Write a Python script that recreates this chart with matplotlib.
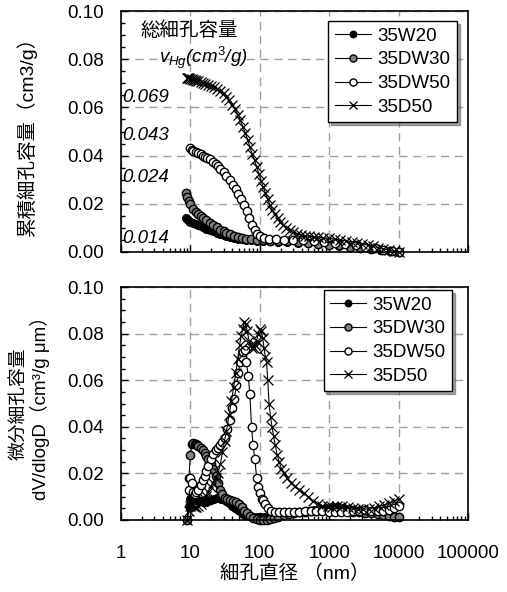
import matplotlib
matplotlib.use("Agg")
import matplotlib.pyplot as plt
from matplotlib.ticker import MultipleLocator, LogLocator, FixedLocator, FixedFormatter, NullFormatter

plt.rcParams['font.family'] = ['Liberation Sans', 'Noto Sans CJK JP']
plt.rcParams['mathtext.fontset'] = 'custom'
plt.rcParams['mathtext.rm'] = 'Liberation Sans'
plt.rcParams['mathtext.it'] = 'Liberation Sans:italic'

labels = ['35W20', '35DW30', '35DW50', '35D50']

# cumulative pore volume (cm3/g) vs pore diameter (nm)
d_cum_a = [8.6, 9.0, 9.5, 10, 11, 12, 13, 14, 15, 17, 19, 21, 24, 27, 30, 33, 37, 42, 48, 55,
           64, 75, 90, 110, 140, 180, 250, 350, 500, 700, 1000, 1400, 2000, 2800, 4000, 5500, 7500, 10000]
v_w20_cum = [0.0140, 0.0135, 0.0130, 0.0125, 0.0120, 0.0115, 0.0110, 0.0107, 0.0104, 0.0097,
             0.0091, 0.0086, 0.0080, 0.0074, 0.0069, 0.0065, 0.0061, 0.0058, 0.0055, 0.0053,
             0.0050, 0.0048, 0.0046, 0.0045, 0.0044, 0.0043, 0.0041, 0.0039, 0.0036, 0.0032,
             0.0029, 0.0025, 0.0021, 0.0017, 0.0012, 0.0008, 0.0004, 0.0001]
v_dw30_cum = [0.0244, 0.0228, 0.0212, 0.0198, 0.0180, 0.0168, 0.0158, 0.0150, 0.0143, 0.0131,
              0.0120, 0.0112, 0.0102, 0.0093, 0.0086, 0.0080, 0.0074, 0.0068, 0.0063, 0.0059,
              0.0055, 0.0052, 0.0050, 0.0048, 0.0047, 0.0046, 0.0044, 0.0042, 0.0039, 0.0035,
              0.0031, 0.0027, 0.0022, 0.0018, 0.0013, 0.0009, 0.0005, 0.0001]
d_dw50_cum = [9.9, 10.5, 11, 12, 13, 14, 15, 16, 17.5, 19, 21, 23, 25, 27, 30, 33, 37, 41, 45, 49,
              54, 59, 65, 71, 77, 84, 92, 100, 115, 135, 170, 220, 300, 420, 600, 850, 1200, 1700,
              2400, 3300, 4500, 6000, 8000, 10000]
v_dw50_cum = [0.0430, 0.0424, 0.0420, 0.0415, 0.0410, 0.0405, 0.0400, 0.0395, 0.0390, 0.0385,
              0.0375, 0.0365, 0.0355, 0.0345, 0.0330, 0.0315, 0.0298, 0.0280, 0.0262, 0.0242,
              0.0220, 0.0196, 0.0170, 0.0140, 0.0112, 0.0090, 0.0075, 0.0066, 0.0058, 0.0054,
              0.0052, 0.0051, 0.0050, 0.0048, 0.0045, 0.0042, 0.0038, 0.0033, 0.0027, 0.0021,
              0.0015, 0.0010, 0.0005, 0.0001]
d_d50_cum = [8.8, 9.2, 9.6, 10, 10.5, 11, 11.5, 12, 13, 14, 15, 16.5, 18, 20, 22, 24, 27, 30, 33, 36,
             40, 44, 48, 52, 57, 62, 67, 72, 78, 84, 90, 97, 105, 112, 120, 130, 140, 152, 165, 180,
             195, 215, 240, 270, 300, 340, 390, 450, 520, 600, 700, 820, 1000, 1200, 1450, 1750,
             2100, 2500, 3000, 3600, 4300, 5100, 6000, 7200, 8500, 10000]
v_d50_cum = [0.0722, 0.0721, 0.0720, 0.0719, 0.0717, 0.0715, 0.0713, 0.0711, 0.0708, 0.0705,
             0.0702, 0.0698, 0.0694, 0.0689, 0.0684, 0.0678, 0.0670, 0.0658, 0.0645, 0.0630,
             0.0610, 0.0592, 0.0570, 0.0548, 0.0520, 0.0492, 0.0465, 0.0437, 0.0405, 0.0380,
             0.0354, 0.0325, 0.0295, 0.0270, 0.0245, 0.0220, 0.0195, 0.0175, 0.0158, 0.0140,
             0.0125, 0.0112, 0.0100, 0.0090, 0.0082, 0.0076, 0.0071, 0.0068, 0.0065, 0.0063,
             0.0061, 0.0059, 0.0057, 0.0054, 0.0050, 0.0046, 0.0042, 0.0037, 0.0033, 0.0028,
             0.0023, 0.0018, 0.0013, 0.0008, 0.0004, 0.0001]
total_vol = ['0.069', '0.043', '0.024', '0.014']

# differential pore volume dV/dlogD
d_w20_dif = [9.0, 9.5, 10, 10.5, 11, 11.5, 12, 13, 14, 15, 16, 17, 18, 20, 22, 24, 26, 28, 30, 33,
             36, 40, 44, 48, 53, 58, 64, 70, 80, 90, 100, 115, 130, 150, 180, 220, 270, 330, 400,
             500, 600, 750, 900, 1100, 1300, 1600, 1900, 2300, 2800, 3400, 4100, 5000, 6000, 7200,
             8600, 10000]
v_w20_dif = [0.0, 0.006, 0.009, 0.0095, 0.0093, 0.009, 0.0088, 0.0084, 0.008, 0.0078,
             0.0076, 0.0078, 0.008, 0.0085, 0.009, 0.0093, 0.0094, 0.0092, 0.0088, 0.008,
             0.0072, 0.0062, 0.0052, 0.0042, 0.0034, 0.0027, 0.0022, 0.0018, 0.0015, 0.0013,
             0.0012, 0.0013, 0.0015, 0.0018, 0.0022, 0.0026, 0.0030, 0.0033, 0.0036, 0.0040,
             0.0044, 0.0047, 0.0050, 0.0054, 0.0056, 0.0052, 0.0048, 0.0045, 0.0042, 0.0040,
             0.0036, 0.0032, 0.0027, 0.0022, 0.0018, 0.0014]
d_dw30_dif = [9.0, 9.5, 10, 10.5, 11, 11.5, 12, 12.5, 13, 14, 15, 16, 17, 18, 19.5, 21, 23, 25, 27,
              29, 31, 34, 37, 41, 45, 50, 55, 60, 66, 72, 80, 90, 100, 110, 125, 140, 160, 185, 220,
              260, 310, 370, 450, 550, 650, 800, 1000, 1200, 1500, 1800, 2200, 2700, 3300, 4000,
              5000, 6000, 7200, 8600, 10000]
v_dw30_dif = [0.0, 0.018, 0.028, 0.0325, 0.0330, 0.0328, 0.0325, 0.0322, 0.0318, 0.0310,
              0.0300, 0.0288, 0.0275, 0.0260, 0.0240, 0.0220, 0.0190, 0.0160, 0.0130, 0.0110,
              0.0095, 0.0088, 0.0087, 0.0083, 0.0078, 0.0068, 0.0055, 0.0040, 0.0028, 0.0018,
              0.0010, 0.0005, 0.0002, 0.0001, 0.0002, 0.0005, 0.0010, 0.0015, 0.0020, 0.0025,
              0.0030, 0.0033, 0.0036, 0.0038, 0.0040, 0.0042, 0.0043, 0.0042, 0.0040, 0.0038,
              0.0036, 0.0033, 0.0030, 0.0028, 0.0025, 0.0022, 0.0018, 0.0015, 0.0012]
d_dw50_dif = [9.5, 10, 10.5, 11, 11.5, 12, 13, 14, 15, 16, 17, 18, 19.5, 21, 23, 25, 27, 29, 31,
              34, 37, 40, 43, 46, 49, 52, 55, 58, 61, 64, 68, 72, 76, 80, 85, 90, 95, 100, 106, 112,
              120, 130, 145, 165, 190, 220, 260, 310, 370, 450, 550, 650, 800, 1000, 1200, 1500,
              1800, 2200, 2700, 3300, 4000, 5000, 6000, 7200, 8600, 10000]
v_dw50_dif = [0.013, 0.018, 0.016, 0.012, 0.011, 0.012, 0.013, 0.015, 0.017,
              0.019, 0.021, 0.023, 0.026, 0.0285, 0.030, 0.031, 0.032, 0.0335, 0.035,
              0.039, 0.043, 0.048, 0.052, 0.058, 0.063, 0.068, 0.070, 0.072, 0.073,
              0.068, 0.062, 0.054, 0.040, 0.032, 0.026, 0.018, 0.014, 0.0114, 0.0090,
              0.0085, 0.0070, 0.0050, 0.0040, 0.0035, 0.0033, 0.0033, 0.0034, 0.0035, 0.0036,
              0.0037, 0.0038, 0.0038, 0.0037, 0.0036, 0.0035, 0.0035, 0.0036, 0.0038, 0.0040,
              0.0042, 0.0040, 0.0038, 0.0040, 0.0045, 0.0050, 0.0058]
d_d50_dif = [9.0, 9.5, 10, 10.5, 11, 11.5, 12, 13, 14, 15, 16, 17, 18, 19.5, 21, 23, 25, 27, 29, 31,
             33, 36, 39, 42, 45, 48, 51, 54, 57, 60, 63, 66, 70, 74, 78, 82, 86, 90, 95, 100,
             105, 110, 115, 120, 125, 130, 136, 143, 150, 158, 167, 178, 190, 205, 225, 250, 280,
             320, 370, 430, 500, 580, 680, 800, 950, 1100, 1300, 1550, 1850, 2200, 2600, 3100,
             3700, 4400, 5200, 6200, 7300, 8600, 10000]
v_d50_dif = [0.0, 0.004, 0.006, 0.0065, 0.006, 0.0055, 0.0055, 0.006, 0.007, 0.008,
             0.009, 0.0105, 0.012, 0.014, 0.016, 0.018, 0.020, 0.024, 0.029, 0.034,
             0.038, 0.045, 0.051, 0.057, 0.063, 0.069, 0.075, 0.079, 0.082, 0.085,
             0.084, 0.081, 0.077, 0.075, 0.074, 0.074, 0.075, 0.077, 0.080, 0.082,
             0.081, 0.078, 0.074, 0.070, 0.068, 0.060, 0.050, 0.044, 0.040, 0.036,
             0.032, 0.028, 0.025, 0.022, 0.020, 0.018, 0.016, 0.0145, 0.013, 0.0115,
             0.010, 0.0082, 0.0070, 0.0062, 0.0058, 0.0056, 0.0058, 0.0060, 0.0056, 0.0052,
             0.0048, 0.0046, 0.0048, 0.0052, 0.0058, 0.0064, 0.0072, 0.0080, 0.0090]

x_ticks = [1, 10, 100, 1000, 10000, 100000]

styles = [dict(marker='o', mfc='black', mec='black', ms=5.5),
          dict(marker='o', mfc='#808080', mec='black', ms=6),
          dict(marker='o', mfc='white', mec='black', ms=6),
          dict(marker='x', mfc='none', mec='black', ms=6.5, mew=0.9)]

fig = plt.figure(figsize=(5.07, 5.92), dpi=100)
ax1 = fig.add_axes([121/507, 1 - 252/592, 347/507, 241/592])
ax2 = fig.add_axes([121/507, 1 - 520/592, 347/507, 233/592])


def setup(ax):
    ax.set_xscale('log')
    ax.set_xlim(1, 100000)
    ax.set_ylim(0, 0.10)
    ax.xaxis.set_major_locator(FixedLocator(x_ticks))
    ax.xaxis.set_minor_locator(LogLocator(base=10, subs=range(2, 10), numticks=20))
    ax.xaxis.set_minor_formatter(NullFormatter())
    ax.yaxis.set_major_locator(MultipleLocator(0.02))
    ax.yaxis.set_minor_locator(MultipleLocator(0.005))
    ax.yaxis.set_major_formatter(plt.FormatStrFormatter('%.2f'))
    ax.tick_params(which='both', direction='in', top=False, right=False, labelsize=13.5)
    ax.tick_params(which='major', length=5, width=1)
    ax.tick_params(which='minor', length=3, width=1)
    ax.tick_params(axis='y', pad=12)
    ax.grid(True, which='major', color='#a0a0a0', lw=1, ls=(0, (6, 4)))
    for s in ax.spines.values():
        s.set_linewidth(1.2)


setup(ax1)
setup(ax2)

cum = [(d_cum_a, v_w20_cum), (d_cum_a, v_dw30_cum), (d_dw50_cum, v_dw50_cum), (d_d50_cum, v_d50_cum)]
dif = [(d_w20_dif, v_w20_dif), (d_dw30_dif, v_dw30_dif), (d_dw50_dif, v_dw50_dif), (d_d50_dif, v_d50_dif)]

for (d, v), st, lab in zip(cum, styles, labels):
    ax1.plot(d, v, color='black', lw=0.8, label=lab, clip_on=False, **st)
for (d, v), st, lab in zip(dif, styles, labels):
    ax2.plot(d, v, color='black', lw=0.8, label=lab, clip_on=False, **st)

ax1.xaxis.set_major_formatter(NullFormatter())
ax2.xaxis.set_major_formatter(FixedFormatter([str(t) for t in x_ticks]))
ax2.tick_params(axis='x', pad=18)

for ax, anchor in [(ax1, (0.968, 0.958)), (ax2, (0.954, 0.987))]:
    leg = ax.legend(loc='upper right', bbox_to_anchor=anchor, fontsize=13.5, shadow=True,
                    fancybox=False, framealpha=1, edgecolor='black', handlelength=1.9,
                    handletextpad=0.35, labelspacing=0.35, borderpad=0.35, borderaxespad=0,
                    markerscale=0.85)
    leg.get_frame().set_linewidth(1.0)

ax1.text(0.055, 0.92, '総細孔容量', transform=ax1.transAxes, fontsize=14, style='italic',
         va='center', ha='left')
ax1.text(0.11, 0.805, r'$v_{Hg}$(cm$^{3}$/g)', transform=ax1.transAxes, fontsize=13.5,
         style='italic', va='center', ha='left')
for txt, yy in zip(total_vol, [0.643, 0.485, 0.311, 0.058]):
    ax1.text(0.004, yy, txt, transform=ax1.transAxes, fontsize=13.5, style='italic',
             va='center', ha='left')

ax1.set_ylabel('累積細孔容量（cm3/g）', fontsize=14)
ax1.yaxis.set_label_coords(-0.242, 0.5)
ax2.set_ylabel('微分細孔容量\ndV/dlogD（cm³/g μm）', fontsize=13.5, linespacing=1.15)
ax2.yaxis.set_label_coords(-0.205, 0.5)
ax2.set_xlabel('細孔直径 （nm）', fontsize=14, labelpad=2)

fig.savefig('out.png', dpi=100)
